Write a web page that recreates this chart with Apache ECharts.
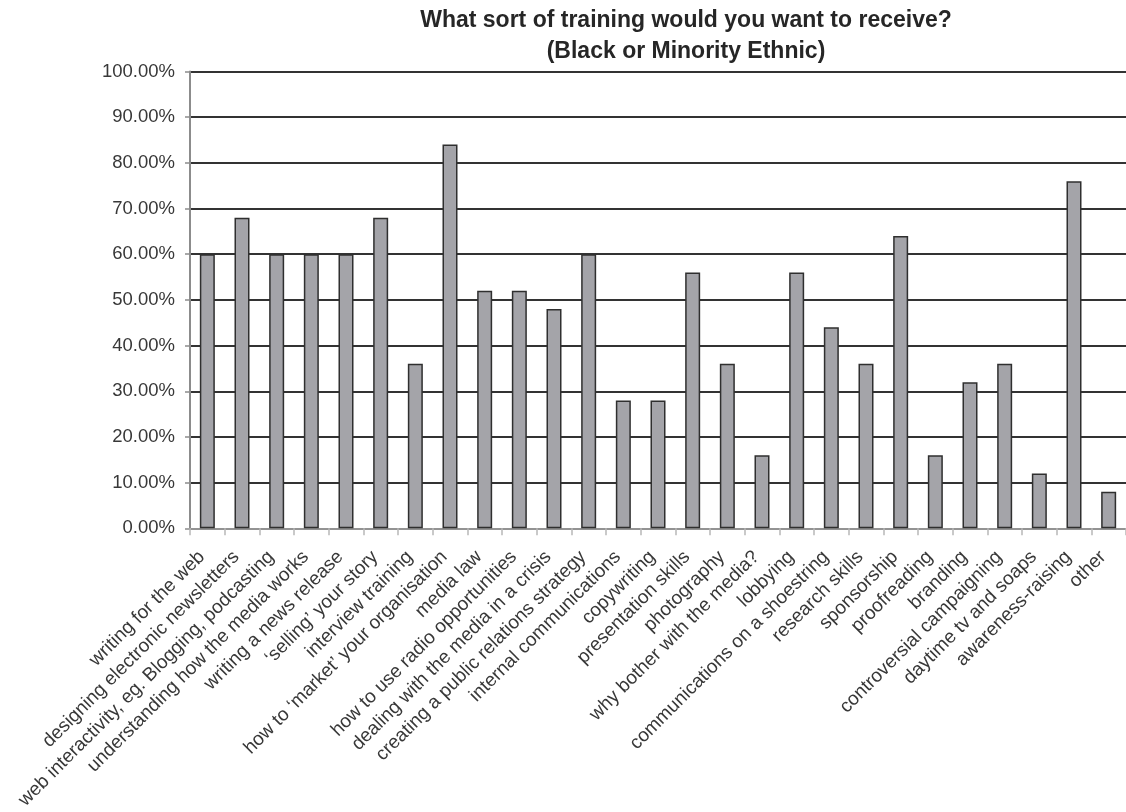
<!DOCTYPE html>
<html>
<head>
<meta charset="utf-8">
<title>Training wanted (Black or Minority Ethnic)</title>
<script src="https://cdn.jsdelivr.net/npm/echarts@6/dist/echarts.min.js"></script>
<style>
  html, body { margin: 0; padding: 0; background: #ffffff; }
  #chart { width: 1126px; height: 812px; }
</style>
</head>
<body>
<div id="chart"></div>
<script>
// Training topics asked about in the survey
const categories = [
  'writing for the web',
  'designing electronic newsletters',
  'web interactivity, eg. Blogging, podcasting',
  'understanding how the media works',
  'writing a news release',
  '\u2018selling\u2019 your story',
  'interview training',
  'how to \u2018market\u2019 your organisation',
  'media law',
  'how to use radio opportunities',
  'dealing with the media in a crisis',
  'creating a public relations strategy',
  'internal communications',
  'copywriting',
  'presentation skills',
  'photography',
  'why bother with the media?',
  'lobbying',
  'communications on a shoestring',
  'research skills',
  'sponsorship',
  'proofreading',
  'branding',
  'controversial campaigning',
  'daytime tv and soaps',
  'awareness-raising',
  'other'
];

// Share of respondents wanting each kind of training (%)
const shareWanting = [
  60, 68, 60, 60, 60, 68, 36, 84, 52, 52, 48, 60, 28, 28,
  56, 36, 16, 56, 44, 36, 64, 16, 32, 36, 12, 76, 8
];

// Value axis range and step (%)
const axisMin = 0;
const axisMax = 100;
const axisStep = 10;

const titleLines = [
  'What sort of training would you want to receive?',
  '(Black or Minority Ethnic)'
];

const fontFamily = '"Liberation Sans", Arial, Helvetica, sans-serif';

const chart = echarts.init(document.getElementById('chart'), null, { renderer: 'canvas' });

chart.setOption({
  backgroundColor: '#ffffff',
  animation: false,
  title: {
    text: titleLines.join('\n'),
    left: 686,
    top: 5,
    padding: 0,
    textAlign: 'center',
    textStyle: {
      fontFamily: fontFamily,
      fontSize: 23,
      fontWeight: 'bold',
      color: '#262626',
      lineHeight: 31
    }
  },
  grid: {
    left: 190,
    top: 71.5,
    width: 943,
    height: 457.5,
    containLabel: false
  },
  xAxis: {
    type: 'category',
    data: categories,
    boundaryGap: true,
    axisLine: { show: true, lineStyle: { color: '#b4b4b4', width: 1.5 } },
    axisTick: { show: true, length: 7, alignWithLabel: false, lineStyle: { color: '#b8b8b8', width: 1.5 } },
    axisLabel: {
      interval: 0,
      rotate: 45,
      margin: 20,
      padding: [0, 8, 0, 0],
      fontFamily: fontFamily,
      fontSize: 19,
      color: '#383838'
    },
    splitLine: { show: false }
  },
  yAxis: {
    type: 'value',
    min: axisMin,
    max: axisMax,
    interval: axisStep,
    axisLine: { show: true, lineStyle: { color: '#8c8c8c', width: 2 } },
    axisTick: { show: true, length: 5, lineStyle: { color: '#8c8c8c', width: 1.5 } },
    axisLabel: {
      margin: 15,
      fontFamily: fontFamily,
      fontSize: 18.5,
      color: '#383838',
      formatter: function (v) { return v.toFixed(2) + '%'; }
    },
    splitLine: { show: true, lineStyle: { color: '#333333', width: 1.8 } }
  },
  series: [{
    type: 'bar',
    data: shareWanting,
    barWidth: 15,
    itemStyle: {
      color: '#a4a4a9',
      borderColor: '#2f2f2f',
      borderWidth: 1.5
    },
    emphasis: { disabled: true }
  }]
});
</script>
</body>
</html>
